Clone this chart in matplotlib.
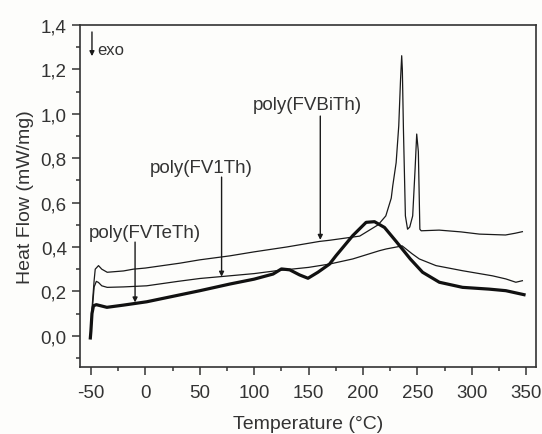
import numpy as np
import matplotlib.pyplot as plt
from matplotlib.ticker import MultipleLocator, FuncFormatter

plt.rcParams['font.family'] = ['Liberation Sans', 'DejaVu Sans']
plt.rcParams['axes.unicode_minus'] = False

# poly(FVBiTh) - upper thin curve
biTh_T = [-50, -49, -47, -46, -43, -40, -35, -20, -11, 0, 31.8, 50, 77.7, 100, 130,
          160, 169, 197, 214, 221, 226, 227.4, 230.5, 232.9, 234.5, 235.6, 236.2,
          237.2, 239, 241, 243, 245.7, 247.9, 249.4, 250.9, 252.3, 253.5, 270, 290,
          307, 331, 340, 346.5]
biTh_H = [0.0, 0.12, 0.25, 0.30, 0.316, 0.30, 0.286, 0.292, 0.30, 0.305, 0.327, 0.342,
          0.36, 0.378, 0.40, 0.425, 0.43, 0.449, 0.50, 0.54, 0.62, 0.676, 0.78, 0.946,
          1.15, 1.262, 1.20, 0.93, 0.54, 0.48, 0.49, 0.54, 0.75, 0.909, 0.83, 0.48,
          0.473, 0.476, 0.468, 0.458, 0.454, 0.462, 0.469]

# poly(FV1Th) - middle thin curve
v1Th_T = [-50, -49, -47, -45, -43, -40, -35, -20, 1.3, 30, 50.2, 68.5, 100, 120.5, 150,
          169.3, 190.6, 215, 221.3, 232, 236, 245, 251.8, 267.1, 291.5, 319, 331.3,
          340.5, 346.5]
v1Th_H = [0.0, 0.10, 0.22, 0.245, 0.24, 0.225, 0.218, 0.22, 0.225, 0.245, 0.258, 0.266,
          0.28, 0.293, 0.308, 0.323, 0.346, 0.383, 0.391, 0.401, 0.405, 0.37, 0.346,
          0.316, 0.293, 0.270, 0.256, 0.241, 0.248]

# poly(FVTeTh) - thick curve
teTh_T = [-50.5, -50, -49, -47.6, -45, -35.3, -20, 1.3, 50.2, 77.7, 100, 111.3, 117.4,
          125.1, 132.7, 141.8, 149.5, 158.6, 169.3, 175.3, 190.6, 202.9, 210.6, 219.8,
          230.5, 243.5, 254.8, 270.2, 291.5, 316, 331.3, 348]
teTh_H = [-0.01, 0.02, 0.10, 0.135, 0.14, 0.128, 0.138, 0.153, 0.203, 0.233, 0.255,
          0.270, 0.278, 0.301, 0.297, 0.274, 0.259, 0.286, 0.323, 0.361, 0.451, 0.511,
          0.514, 0.488, 0.425, 0.346, 0.286, 0.241, 0.218, 0.210, 0.203, 0.185]

# label text, label x, arrow x, label y, arrow top, arrow tip (on curve)
labels = [("poly(FVBiTh)", 148.5, 160.8, 1.044, 0.99, 0.432),
          ("poly(FV1Th)", 51.2, 70.1, 0.759, 0.715, 0.266),
          ("poly(FVTeTh)", -0.5, -9.4, 0.466, 0.422, 0.150)]

txt_col = '#333333'

fig = plt.figure(figsize=(5.42, 4.35), dpi=100)
fig.patch.set_facecolor('#fdfdfb')
ax = fig.add_axes([0.1476, 0.154, 0.8413, 0.786])
ax.set_facecolor('#fdfdfb')

ax.plot(biTh_T, biTh_H, color='#1a1a1a', lw=0.9)
ax.plot(v1Th_T, v1Th_H, color='#1a1a1a', lw=0.9)
ax.plot(teTh_T, teTh_H, color='#111111', lw=2.3)

for name, tx, ax_x, ty, ytop, ytip in labels:
    ax.text(tx, ty, name, ha='center', va='center', fontsize=13.5, color=txt_col)
    ax.annotate('', xy=(ax_x, ytip), xytext=(ax_x, ytop),
                arrowprops=dict(arrowstyle='-|>', color='#1a1a1a', lw=1.0,
                                mutation_scale=7, shrinkA=0, shrinkB=0))

# exo arrow
ax.annotate('', xy=(-49, 1.26), xytext=(-49, 1.369),
            arrowprops=dict(arrowstyle='-|>', color='#1a1a1a', lw=1.0,
                            mutation_scale=7, shrinkA=0, shrinkB=0))
ax.text(-44.5, 1.29, "exo", ha='left', va='center', fontsize=12, color=txt_col)

ax.set_xlim(-60, 359)
ax.set_ylim(-0.141, 1.4)
ax.xaxis.set_major_locator(MultipleLocator(50))
ax.xaxis.set_minor_locator(MultipleLocator(25))
ax.yaxis.set_major_locator(MultipleLocator(0.2))
ax.yaxis.set_minor_locator(MultipleLocator(0.1))
ax.yaxis.set_major_formatter(FuncFormatter(lambda v, p: f"{v:.1f}".replace('.', ',').replace('-0,0', '0,0')))

ax.tick_params(which='both', direction='out', top=False, right=False,
               color='#333333', width=1.1, labelsize=13.5, labelcolor=txt_col)
ax.tick_params(which='major', length=6)
ax.tick_params(which='minor', length=3)
ax.tick_params(axis='x', pad=6)
for s in ax.spines.values():
    s.set_color('#333333')
    s.set_linewidth(1.2)

ax.set_xlabel("Temperature (°C)", fontsize=14, color=txt_col, labelpad=10)
ax.set_ylabel("Heat Flow (mW/mg)", fontsize=14, color=txt_col, labelpad=5)

fig.savefig("out.png", dpi=100, facecolor=fig.get_facecolor())
